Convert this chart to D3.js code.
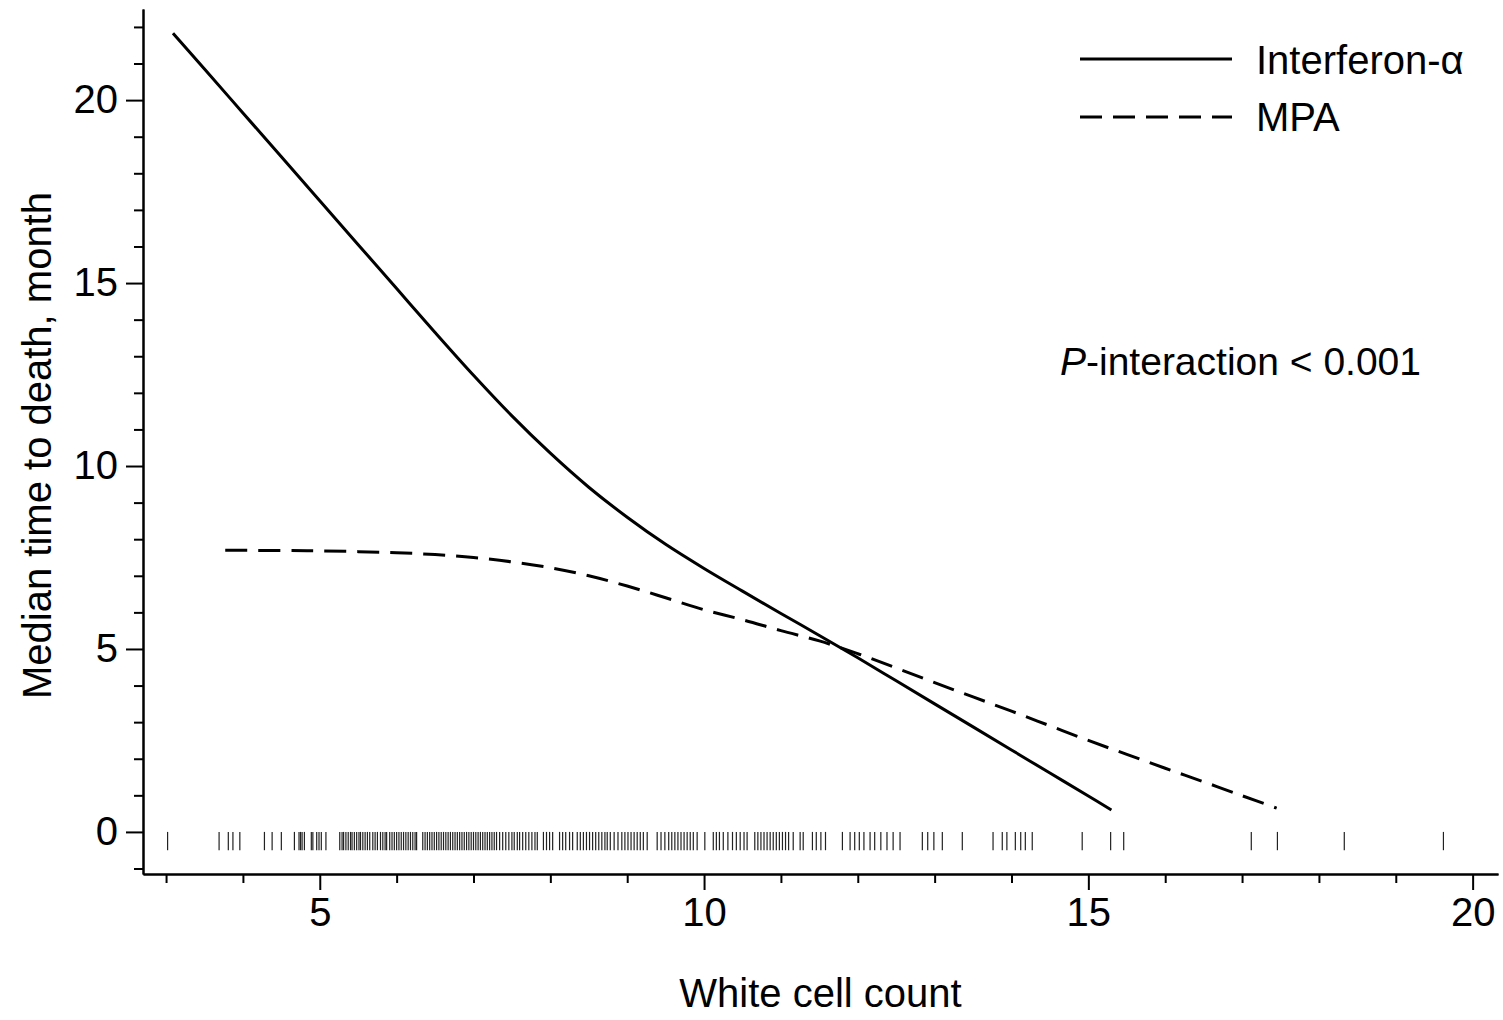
<!DOCTYPE html>
<html>
<head>
<meta charset="utf-8">
<script src="https://cdn.jsdelivr.net/npm/d3@7"></script>
<style>
  body { margin: 0; background: #fff; }
  svg { font-family: 'Liberation Sans', Arial, sans-serif; }
  .axis path, .axis line { stroke: #000; stroke-width: 2; }
  .axis text { font-size: 40px; fill: #000; }
</style>
</head>
<body>
<script>
// solid curve: Interferon-alpha
const ifnX = [3.09, 3.5, 4.0, 4.5, 5.0, 5.5, 6.0, 6.5, 7.0, 7.5, 8.0, 8.5, 9.0, 9.5, 10.0, 10.5, 11.0, 11.5, 12.0, 12.5, 13.0, 13.5, 14.0, 14.5, 15.0, 15.3]
const ifnY = [21.83, 20.85, 19.65, 18.45, 17.25, 16.05, 14.85, 13.65, 12.48, 11.37, 10.35, 9.42, 8.6, 7.86, 7.2, 6.58, 5.97, 5.37, 4.76, 4.13, 3.5, 2.87, 2.24, 1.61, 0.98, 0.6]

// dashed curve: MPA
const mpaX = [3.77, 4.5, 5.0, 5.5, 6.0, 6.5, 7.0, 7.5, 8.0, 8.5, 9.0, 9.5, 10.0, 10.5, 11.0, 11.5, 12.0, 12.5, 13.0, 13.5, 14.0, 14.5, 15.0, 15.5, 16.0, 16.5, 17.0, 17.45]
const mpaY = [7.70, 7.69, 7.68, 7.66, 7.63, 7.58, 7.5, 7.38, 7.22, 7.0, 6.72, 6.4, 6.07, 5.8, 5.5, 5.22, 4.87, 4.48, 4.08, 3.69, 3.3, 2.9, 2.5, 2.12, 1.74, 1.37, 0.99, 0.65]

// rug of observed white cell counts
const rug = [
  3.02, 3.69, 3.81, 3.87, 3.96, 4.28, 4.38, 4.50, 4.67, 4.73, 4.75, 4.77, 4.80,
  4.89, 4.91, 4.96, 4.99, 5.02, 5.08,
  5.26, 5.29, 5.31, 5.34, 5.37, 5.40, 5.42, 5.45, 5.48, 5.51, 5.53, 5.56, 5.59, 5.62, 5.65, 5.69,
  5.72, 5.75, 5.79, 5.82, 5.85, 5.87,
  5.91, 5.94, 5.97, 6.00, 6.03, 6.06, 6.09, 6.12, 6.15, 6.18, 6.21, 6.24, 6.26,
  6.34, 6.37, 6.40, 6.43, 6.46, 6.49, 6.52, 6.55, 6.58, 6.61, 6.64, 6.67, 6.70, 6.73, 6.76, 6.79,
  6.82, 6.85, 6.88, 6.91, 6.94, 6.97, 7.00, 7.03, 7.06, 7.09, 7.12, 7.15, 7.18, 7.21, 7.24, 7.27,
  7.30, 7.34,
  7.38, 7.42, 7.46, 7.50, 7.53, 7.57, 7.60,
  7.64, 7.68, 7.72, 7.76, 7.80, 7.83,
  7.91, 7.95, 7.99, 8.03,
  8.12, 8.16, 8.20, 8.25, 8.29,
  8.35, 8.39, 8.43, 8.47, 8.51, 8.55, 8.59, 8.63, 8.67, 8.71, 8.74,
  8.78, 8.83, 8.88, 8.93,
  8.97, 9.01, 9.05, 9.09, 9.13, 9.17, 9.21, 9.26,
  9.39, 9.44, 9.49, 9.54, 9.58, 9.62, 9.66, 9.70, 9.74, 9.78, 9.82, 9.86, 9.91,
  10.01,
  10.12, 10.16, 10.20, 10.25, 10.31,
  10.37, 10.42, 10.47, 10.52, 10.56,
  10.66, 10.70, 10.74, 10.78, 10.82, 10.86, 10.90, 10.94, 10.98, 11.02, 11.06, 11.10, 11.16,
  11.25, 11.29,
  11.41, 11.46, 11.52, 11.58,
  11.80, 11.90, 11.96, 12.02, 12.08, 12.16, 12.22, 12.30, 12.38, 12.46, 12.55,
  12.84, 12.91, 12.99, 13.10,
  13.36,
  13.76, 13.88, 13.94, 14.05, 14.12, 14.18, 14.27,
  14.92, 15.29, 15.46, 17.12, 17.46, 18.33, 19.62
]

const xMajor = [5, 10, 15, 20]
const yMajor = [0, 5, 10, 15, 20]

const width = 1503
const height = 1020

const svg = d3.select('body').append('svg')
  .attr('width', width)
  .attr('height', height)

const x = d3.scaleLinear().domain([2.70, 20.33]).range([143, 1498])
const y = d3.scaleLinear().domain([-1.15, 22.49]).range([874, 9])

// minor ticks first, then major ticks with labels
const xMinor = d3.range(3, 21).filter(v => !xMajor.includes(v))
const yMinor = d3.range(-1, 23).filter(v => !yMajor.includes(v))

svg.append('g')
  .attr('class', 'axis')
  .attr('transform', 'translate(0,' + y.range()[0] + ')')
  .call(d3.axisBottom(x).tickValues(xMinor).tickSize(9).tickSizeOuter(0).tickFormat(''))

svg.append('g')
  .attr('class', 'axis')
  .attr('transform', 'translate(0,' + y.range()[0] + ')')
  .call(d3.axisBottom(x).tickValues(xMajor).tickSize(16).tickSizeOuter(0).tickPadding(8))

svg.append('g')
  .attr('class', 'axis')
  .attr('transform', 'translate(' + x.range()[0] + ',0)')
  .call(d3.axisLeft(y).tickValues(yMinor).tickSize(9).tickSizeOuter(0).tickFormat(''))

svg.append('g')
  .attr('class', 'axis')
  .attr('transform', 'translate(' + x.range()[0] + ',0)')
  .call(d3.axisLeft(y).tickValues(yMajor).tickSize(17).tickSizeOuter(0).tickPadding(8))

// axis titles
svg.append('text')
  .attr('x', (x.range()[0] + x.range()[1]) / 2)
  .attr('y', 1007)
  .attr('text-anchor', 'middle')
  .attr('font-size', 40)
  .text('White cell count')

svg.append('text')
  .attr('transform', 'translate(51,' + ((y.range()[0] + y.range()[1]) / 2 + 4) + ') rotate(-90)')
  .attr('text-anchor', 'middle')
  .attr('font-size', 40)
  .text('Median time to death, month')

// rug
svg.append('g')
  .selectAll('line')
  .data(rug)
  .enter()
  .append('line')
  .attr('x1', d => x(d))
  .attr('x2', d => x(d))
  .attr('y1', y(0))
  .attr('y2', y(-0.5))
  .attr('stroke', '#222')
  .attr('stroke-width', 1.2)

const line = d3.line()
  .x(d => x(d[0]))
  .y(d => y(d[1]))
  .curve(d3.curveCatmullRom.alpha(0.5))

svg.append('path')
  .datum(d3.zip(ifnX, ifnY))
  .attr('d', line)
  .attr('fill', 'none')
  .attr('stroke', '#000')
  .attr('stroke-width', 3)

svg.append('path')
  .datum(d3.zip(mpaX, mpaY))
  .attr('d', line)
  .attr('fill', 'none')
  .attr('stroke', '#000')
  .attr('stroke-width', 3)
  .attr('stroke-dasharray', '22,11')

// legend
const legend = [
  { name: 'Interferon-α', dash: null },
  { name: 'MPA', dash: '22,11' }
]
const lg = svg.append('g').attr('transform', 'translate(1080,59)')
legend.forEach((d, i) => {
  lg.append('line')
    .attr('x1', 0).attr('x2', 152)
    .attr('y1', i * 58).attr('y2', i * 58)
    .attr('stroke', '#000')
    .attr('stroke-width', 3)
    .attr('stroke-dasharray', d.dash)
  lg.append('text')
    .attr('x', 176)
    .attr('y', i * 57 + 15)
    .attr('font-size', 40)
    .text(d.name)
})

svg.append('text')
  .attr('x', 1060)
  .attr('y', 375)
  .attr('font-size', 39)
  .call(t => {
    t.append('tspan').attr('font-style', 'italic').text('P')
    t.append('tspan').text('-interaction < 0.001')
  })
</script>
</body>
</html>
